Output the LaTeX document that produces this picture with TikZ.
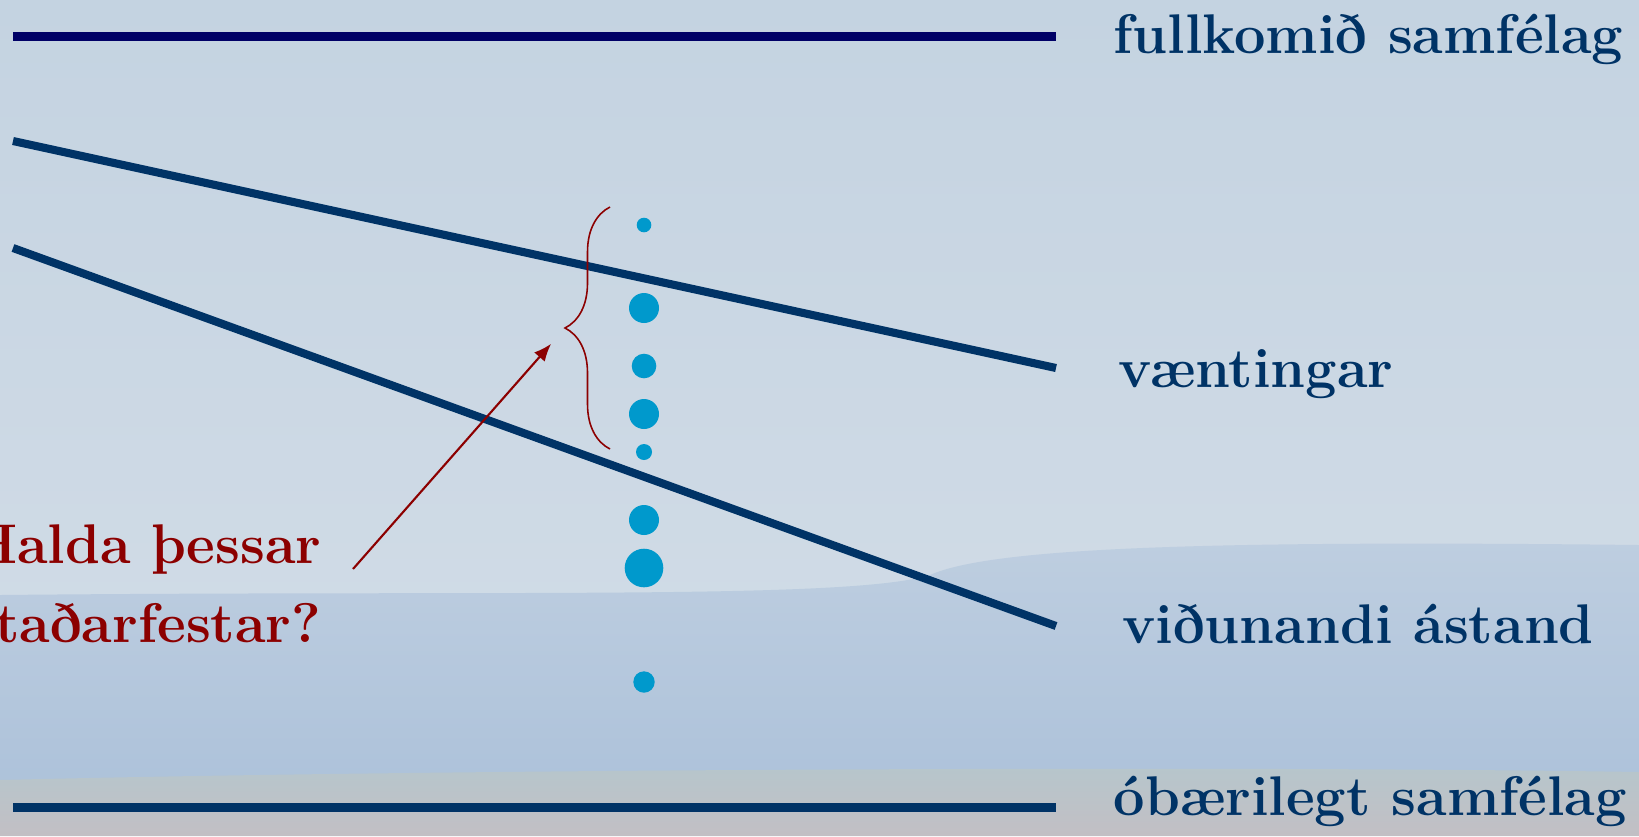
\documentclass[tikz,border=0pt]{standalone}
\usepackage{fontspec}
\usepackage{tikz}
\usetikzlibrary{arrows.meta, decorations.pathreplacing}

\begin{document}
\begin{tikzpicture}[>={Latex[length=5pt, width=4pt]}, x=0.1mm, y=-0.1mm, font=\fontsize{15.9}{22.5}\selectfont\bfseries]
\definecolor{skytop}{RGB}{196, 211, 225}
\definecolor{skymid}{RGB}{208, 219, 230}
\definecolor{hilltop}{RGB}{190, 206, 224}
\definecolor{hillbot}{RGB}{173, 194, 218}
\definecolor{groundtop}{RGB}{182, 198, 204}
\definecolor{groundbot}{RGB}{194, 191, 196}
\definecolor{limitnavy}{RGB}{0, 0, 102}
\definecolor{trendblue}{RGB}{0, 51, 102}
\definecolor{dotblue}{RGB}{0, 153, 204}
\definecolor{askred}{RGB}{140, 0, 0}
\tikzset{level line/.style={line width=2.3pt, trendblue},
         level label/.style={anchor=base west, inner sep=0pt, trendblue}}
\useasboundingbox (0,0) rectangle (1639,836);
% Background: sky, hills, ground
\shade[top color=skytop, bottom color=skymid] (0,0) rectangle (1639,620);
\shade[top color=hilltop, bottom color=hillbot] (0,595) .. controls (500,590) and (850,600) .. (930,575)
    .. controls (990,548) and (1200,540) .. (1639,545) -- (1639,790) -- (0,790) -- cycle;
\shade[top color=groundtop, bottom color=groundbot] (0,780) .. controls (400,770) and (1200,765) .. (1639,772)
    -- (1639,836) -- (0,836) -- cycle;
% Levels
\coordinate (full l) at (13,36.5);
\coordinate (full r) at (1056,36.5);
\coordinate (hope l) at (13,141);
\coordinate (hope r) at (1056,368);
\coordinate (fair l) at (13,248);
\coordinate (fair r) at (1056,626);
\coordinate (bad l) at (13,807.5);
\coordinate (bad r) at (1056,807.5);
\draw[level line, limitnavy] (full l) -- (full r);
\draw[level line] (hope l) -- (hope r);
\draw[level line] (fair l) -- (fair r);
\draw[level line] (bad l) -- (bad r);
\node[level label] (full) at (1113,53) {fullkomið samfélag};
\node[level label] (hope) at (1118,387) {væntingar};
\node[level label] (fair) at (1122,643) {viðunandi ástand};
\node[level label] (bad) at (1113,815) {óbærilegt samfélag};
% Observations
\foreach \y/\r in {225/0.73mm, 308/1.5mm, 366/1.23mm, 414/1.5mm, 452/0.8mm, 520/1.5mm, 568/1.93mm, 682/1.07mm} {
    \fill[dotblue] (644,\y) circle (\r);
}
% Brace and question
\coordinate (brace bot) at (610,449);
\coordinate (brace top) at (610,207);
\coordinate (brace tip) at (565,328);
\draw[askred, line width=0.45pt, decorate, decoration={brace, amplitude=4.5mm}] (brace bot) -- (brace top);
\node[anchor=north east, align=right, inner sep=0pt, askred] (ask) at (322,524) {Halda þessar\\staðarfestar?};
\coordinate (ask from) at (353,569);
\draw[->, askred, line width=0.6pt, shorten >=2.1mm] (ask from) -- (brace tip);
\end{tikzpicture}
\end{document}
